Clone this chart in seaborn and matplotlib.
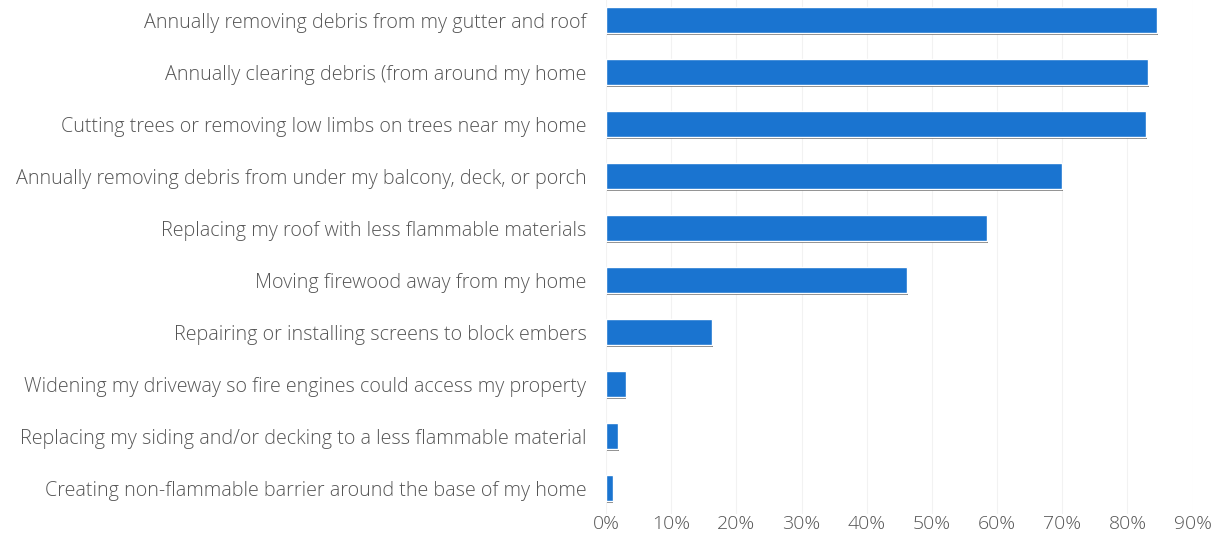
import matplotlib
matplotlib.use("Agg")
import matplotlib.pyplot as plt
import matplotlib.patheffects as pe
from matplotlib.ticker import FuncFormatter
import seaborn as sns
import pandas as pd

categories = [
    "Annually removing debris from my gutter and roof",
    "Annually clearing debris (from around my home",
    "Cutting trees or removing low limbs on trees near my home",
    "Annually removing debris from under my balcony, deck, or porch",
    "Replacing my roof with less flammable materials",
    "Moving firewood away from my home",
    "Repairing or installing screens to block embers",
    "Widening my driveway so fire engines could access my property",
    "Replacing my siding and/or decking to a less flammable material",
    "Creating non-flammable barrier around the base of my home",
]
values = [0.846, 0.832, 0.828, 0.700, 0.585, 0.462, 0.163, 0.030, 0.018, 0.010]
x_ticks = [0.0, 0.1, 0.2, 0.3, 0.4, 0.5, 0.6, 0.7, 0.8, 0.9]

df = pd.DataFrame({"action": categories, "share": values})

sns.set_theme(style="white")
plt.rcParams['font.family'] = ['Open Sans', 'DejaVu Sans']

fig = plt.figure(figsize=(12.17, 5.56), dpi=100)
ax = fig.add_axes([0.498, 0.0755, 0.482, 0.935])

sns.barplot(data=df, x="share", y="action", color="#1a74d0", width=0.5,
            saturation=1, ax=ax, order=categories)
for p in ax.patches:
    p.set_path_effects([pe.SimplePatchShadow(offset=(0.6, -1.5), shadow_rgbFace="#444444", alpha=0.7), pe.Normal()])

ax.set_xlim(0, 0.9)
ax.set_ylim(9.5, -0.5)
ax.set_xticks(x_ticks)
ax.xaxis.set_major_formatter(FuncFormatter(lambda v, _: f"{v*100:.0f}%"))
ax.grid(axis="x", color="#f2f2f2", linewidth=0.8)
ax.set_axisbelow(True)
for s in ax.spines.values():
    s.set_visible(False)
ax.set_xlabel("")
ax.set_ylabel("")
ax.tick_params(axis="y", length=0, pad=14, labelsize=14.2, labelcolor="#555555")
ax.tick_params(axis="x", length=0, pad=1, labelsize=14, labelcolor="#555555")
for lbl in ax.get_yticklabels() + ax.get_xticklabels():
    lbl.set_fontweight("light")

fig.savefig("out.png", dpi=100)
